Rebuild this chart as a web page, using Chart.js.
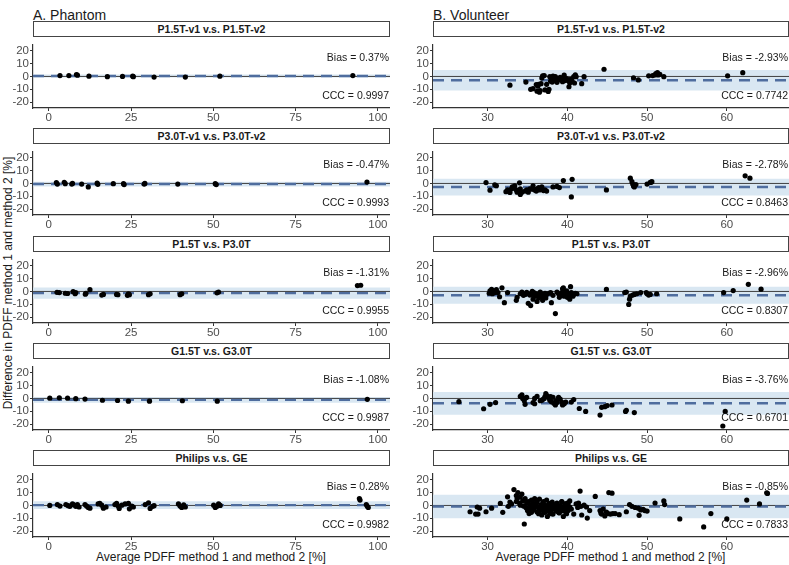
<!DOCTYPE html>
<html>
<head>
  <meta charset="utf-8">
  <title>Bland-Altman PDFF Phantom & Volunteer</title>
  <script src="https://cdn.jsdelivr.net/npm/chart.js"></script>
  <style>
    body {
      margin: 0;
      width: 789px;
      height: 565px;
      background: #ffffff;
      font-family: "Liberation Sans", Arial, sans-serif;
      position: relative;
      overflow: hidden;
    }
    .col-title {
      position: absolute;
      top: 7px;
      font-size: 14px;
      line-height: 16px;
      color: #1a1a1a;
    }
    .strip {
      position: absolute;
      height: 16px;
      box-sizing: border-box;
      border: 1px solid #444;
      background: #fff;
      font-size: 10.5px;
      font-weight: bold;
      line-height: 14px;
      color: #1a1a1a;
      text-align: center;
    }
    .panel {
      position: absolute;
    }
    .x-title {
      position: absolute;
      top: 550px;
      font-size: 12px;
      line-height: 14px;
      color: #1a1a1a;
      text-align: center;
    }
    .y-title {
      position: absolute;
      width: 320px;
      left: -152px;
      top: 276px;
      font-size: 12px;
      line-height: 14px;
      color: #1a1a1a;
      text-align: center;
      transform: rotate(-90deg);
    }
  </style>
</head>
<body>

  <div class="col-title" style="left:33px">A. Phantom</div>
  <div class="col-title" style="left:433px">B. Volunteer</div>
  <div class="y-title">Difference in PDFF method 1 and method 2 [%]</div>
  <div class="x-title" style="left:33px;width:356px">Average PDFF method 1 and method 2 [%]</div>
  <div class="x-title" style="left:433px;width:355px">Average PDFF method 1 and method 2 [%]</div>

  <script>
    // 1. Data
    const comparisons = ['P1.5T-v1 v.s. P1.5T-v2', 'P3.0T-v1 v.s. P3.0T-v2', 'P1.5T v.s. P3.0T', 'G1.5T v.s. G3.0T', 'Philips v.s. GE'];

    const yTicks = [-20, -10, 0, 10, 20];
    const yRange = [-24.5, 24.5];
    const phantomTicks = [0, 25, 50, 75, 100];
    const phantomRange = [-4.8, 103.7];
    const volunteerTicks = [30, 40, 50, 60];
    const volunteerRange = [23.15, 67.8];

    const phantomBias = [0.37, -0.47, -1.31, -1.08, 0.28];
    const phantomCCC = ['0.9997', '0.9993', '0.9955', '0.9987', '0.9982'];
    const phantomLoaLow = [-0.8, -2.3, -5.7, -3.3, -2.8];
    const phantomLoaHigh = [1.6, 1.4, 3.1, 1.1, 3.3];

    const volunteerBias = [-2.93, -2.78, -2.96, -3.76, -0.85];
    const volunteerCCC = ['0.7742', '0.8463', '0.8307', '0.6701', '0.7833'];
    const volunteerLoaLow = [-10.9, -9.3, -9.6, -12.6, -10.0];
    const volunteerLoaHigh = [5.0, 3.7, 3.7, 5.1, 8.3];

    // phantom
    const ph15RepX = [3.4, 6.1, 8.4, 8.7, 12.2, 17.8, 22.4, 25.5, 25.7, 32.0, 41.5, 52.0, 92.4];
    const ph15RepY = [0.7, 0.7, 1.5, 1.0, 0.2, -0.2, 0.0, 0.2, -0.2, -0.5, -0.5, 0.2, 0.7];

    const ph30RepX = [2.3, 2.6, 4.7, 5.0, 7.0, 7.2, 10.0, 12.0, 14.7, 14.9, 19.6, 22.7, 22.9, 29.0, 29.2, 39.2, 50.6, 50.9, 96.7];
    const ph30RepY = [0.7, -0.5, 0.9, -0.2, -0.5, 0.0, -0.5, -2.7, 0.2, -0.7, -0.2, -0.2, -0.9, -0.5, 0.0, -0.5, -0.2, -0.9, 1.1];

    const phFieldX = [2.5, 3.2, 5.0, 5.7, 7.4, 8.0, 8.2, 11.1, 11.3, 12.5, 16.1, 16.6, 20.6, 21.0, 23.9, 24.2, 24.5, 30.3, 30.8, 39.9, 40.4, 51.1, 51.6, 93.8, 94.8];
    const phFieldY = [-0.7, -0.9, -1.4, -1.6, -0.2, -1.8, -0.9, -2.1, -1.4, 1.4, -2.8, -2.3, -2.3, -2.5, -3.0, -1.8, -2.5, -2.5, -1.8, -2.5, -1.8, -1.1, -0.5, 4.6, 4.8];

    const phGeX = [0.3, 3.2, 5.7, 8.2, 11.0, 16.3, 20.9, 24.2, 30.6, 40.6, 51.2, 96.8];
    const phGeY = [0.2, 0.5, 0.2, -0.2, -0.5, -1.4, -1.6, -2.1, -2.1, -1.8, -2.1, -0.7];

    const phVendorX = [0.3, 2.6, 3.4, 5.2, 5.9, 6.4, 7.2, 7.6, 8.2, 8.7,
      9.2, 11.0, 11.5, 12.0, 12.5, 15.0, 15.5, 16.1, 16.6, 17.4,
      20.1, 20.6, 21.1, 21.4, 22.2, 23.2, 24.2, 24.5, 25.2, 25.7,
      29.3, 30.3, 30.8, 31.6, 32.0, 39.4, 39.9, 40.4, 41.0, 41.5,
      50.1, 50.6, 51.1, 51.6, 52.1, 94.4, 94.6, 96.5, 96.8, 97.1];
    const phVendorY = [0.0, 0.7, -0.5, 0.7, -0.2, -0.7, 1.2, 0.5, -0.7, 0.7,
      -1.2, 0.7, -0.5, -1.6, -2.1, 1.2, 1.6, 0.2, -2.1, -1.2,
      0.7, 1.6, -0.5, -2.3, 0.2, 1.2, 1.6, -2.6, -0.5, -1.2,
      0.7, 2.1, -2.3, -0.7, -0.2, 1.2, -0.5, -1.6, 0.5, -1.2,
      0.2, -1.6, -0.7, 1.2, 0.0, 5.3, 4.2, 0.7, -0.7, -1.6];

    // volunteer
    const vo15RepX = [32.8, 34.8, 35.4, 35.7, 36.1, 36.2, 36.3, 36.4, 36.5, 36.6,
      36.7, 36.8, 36.9, 37.1, 37.2, 37.4, 37.6, 37.7, 37.8, 37.9,
      38.1, 38.2, 38.2, 38.4, 38.5, 38.6, 38.7, 38.7, 39.1, 39.2,
      39.4, 39.5, 39.6, 39.7, 39.9, 40.1, 40.2, 40.3, 40.4, 40.6,
      40.8, 40.9, 41.0, 41.1, 41.8, 42.1, 44.6, 48.3, 48.9, 50.2,
      50.7, 51.0, 51.1, 51.3, 51.4, 51.6, 52.1, 60.1, 62.0];
    const vo15RepY = [-6.8, -4.4, -10.0, -9.5, -6.3, -11.5, -7.6, -6.1, -12.2, -11.0,
      -5.6, -1.2, 0.5, 0.7, -10.5, -6.1, -11.7, -10.0, -0.2, -3.7,
      -4.4, 0.2, -1.2, -3.2, -0.2, -2.7, -2.0, -4.6, -0.7, -2.7,
      -4.1, -1.0, 1.0, -3.2, -1.7, -3.2, -8.0, -5.1, -2.2, -3.7,
      -0.2, -5.1, 1.2, -0.2, -5.6, -0.2, 5.6, -1.0, -2.7, 0.5,
      0.7, 1.2, 2.2, 2.9, 1.2, 1.7, -0.2, 0.5, 2.9];

    const vo30RepX = [29.8, 30.3, 30.9, 31.1, 32.3, 32.5, 32.6, 32.8, 33.0, 33.1,
      33.3, 33.4, 33.6, 33.7, 33.9, 34.0, 34.1, 34.1, 34.3, 34.7,
      34.9, 35.1, 35.3, 35.5, 35.7, 35.9, 36.1, 36.2, 36.4, 36.5,
      36.7, 36.8, 37.0, 37.2, 37.4, 38.2, 38.7, 39.0, 39.5, 40.5,
      40.6, 44.9, 47.9, 48.1, 48.2, 48.3, 48.4, 48.6, 50.0, 50.4,
      50.5, 50.6, 62.3, 62.9];
    const vo30RepY = [0.7, -5.2, -1.1, -1.8, -6.4, -5.0, -5.9, -7.0, -4.1, -2.7,
      -3.6, -1.8, -5.0, -6.8, -5.9, 0.5, -4.1, -8.6, -6.8, -5.9,
      -5.0, -6.8, -4.1, -4.5, -1.8, -5.0, -5.9, -4.1, -3.2, -5.0,
      -3.6, -2.7, -5.5, -5.0, -5.9, -2.7, -2.3, -3.2, 2.3, -10.5,
      3.2, -5.0, 4.1, 1.4, -0.5, -1.8, -2.7, -0.9, -0.5, 0.9,
      0.9, 1.4, 5.9, 4.1];

    const voFieldX = [30.2, 30.3, 30.5, 30.6, 30.9, 31.1, 31.3, 31.5, 31.8, 32.1,
      32.5, 33.6, 33.7, 34.1, 34.3, 34.5, 34.7, 34.9, 35.0, 35.1,
      35.3, 35.4, 35.5, 35.6, 35.7, 35.8, 35.9, 36.1, 36.2, 36.2,
      36.4, 36.5, 36.6, 36.7, 36.8, 36.9, 37.1, 37.2, 37.3, 37.4,
      37.7, 37.9, 38.0, 38.2, 38.5, 38.7, 38.9, 39.0, 39.2, 39.3,
      39.4, 39.5, 39.6, 39.7, 39.8, 39.9, 40.0, 40.1, 40.3, 40.3,
      40.4, 40.5, 40.7, 40.8, 41.0, 41.2, 44.9, 47.2, 47.4, 47.7,
      47.8, 47.9, 48.2, 48.4, 48.7, 49.2, 49.9, 50.0, 50.2, 50.4,
      51.2, 59.6, 60.8, 62.7, 64.3];
    const voFieldY = [-1.4, 0.5, 1.6, -1.8, -0.9, 1.4, -0.9, -4.1, 2.8, -8.7,
      -0.9, -6.9, -4.6, -1.8, -0.5, -3.0, -2.3, -0.7, -1.4, -9.2,
      -2.8, -11.0, -1.8, 0.0, -6.0, -0.9, -3.7, -1.8, -7.8, -2.8,
      -5.1, -3.2, -0.5, -1.8, -4.1, -6.9, -3.2, -1.4, -5.1, -2.3,
      -1.4, -0.9, -8.7, -3.0, -17.2, -0.5, -1.8, -4.6, -2.8, -0.9,
      2.1, 2.8, -3.7, -2.3, -0.9, 0.5, -4.6, -1.8, -6.0, -2.8,
      3.7, -0.9, -3.7, -2.3, -1.4, -1.8, 1.6, -0.9, -0.5, -10.1,
      -6.0, -3.7, -2.8, -2.3, -1.8, -0.9, -0.9, -1.8, -2.8, -2.3,
      -1.8, -0.9, 0.7, 5.5, 1.8];

    const voGeX = [26.4, 29.5, 30.3, 31.0, 34.1, 34.3, 34.4, 34.6, 34.7, 34.8,
      34.9, 35.7, 35.9, 35.9, 36.2, 36.6, 36.8, 36.9, 37.1, 37.2,
      37.3, 37.4, 37.5, 37.7, 37.8, 37.9, 38.0, 38.2, 38.3, 38.5,
      38.6, 38.7, 38.9, 39.1, 39.3, 39.4, 39.6, 39.8, 40.5, 40.8,
      41.5, 42.3, 44.1, 44.3, 44.7, 45.0, 45.6, 47.3, 47.4, 48.4,
      59.5, 59.8];
    const voGeY = [-2.5, -8.0, -4.6, -3.2, 1.6, 2.8, 0.0, -1.8, -4.6, 0.5,
      0.9, -3.2, 0.0, -4.1, 1.6, -1.8, -1.4, -0.9, 0.0, 1.4,
      3.7, 2.3, 1.8, 0.5, -1.4, 1.4, -2.5, 0.9, -3.7, -5.1,
      -1.8, -3.2, 0.9, -0.5, -2.8, -5.1, -4.1, -2.8, -2.8, -0.9,
      -7.8, -10.1, -12.9, -6.9, -6.4, -5.5, -5.1, -10.1, -9.2, -11.0,
      -21.4, -10.1];

    const voVendorX = [27.8, 28.5, 28.7, 28.8, 29.0, 29.8, 30.5, 31.6, 31.9, 32.5,
      32.6, 32.8, 33.0, 33.3, 33.6, 33.6, 33.7, 33.8, 34.0, 34.1,
      34.1, 34.3, 34.4, 34.5, 34.6, 34.7, 34.8, 34.9, 35.0, 35.1,
      35.2, 35.3, 35.4, 35.5, 35.6, 35.7, 35.8, 35.9, 36.1, 36.2,
      36.2, 36.4, 36.5, 36.6, 36.7, 36.8, 36.9, 37.0, 37.1, 37.2,
      37.3, 37.4, 37.5, 37.6, 37.7, 37.8, 37.9, 38.0, 38.1, 38.2,
      38.3, 38.5, 38.6, 38.7, 38.7, 38.9, 39.0, 39.1, 39.2, 39.3,
      39.4, 39.5, 39.6, 39.7, 39.8, 39.9, 40.0, 40.1, 40.3, 40.3,
      40.5, 40.8, 41.1, 41.3, 41.4, 41.6, 41.7, 41.8, 42.1, 42.4,
      42.5, 42.8, 43.5, 44.1, 44.2, 44.3, 44.5, 44.7, 44.9, 45.1,
      45.2, 45.4, 45.6, 45.7, 46.0, 46.5, 47.4, 47.8, 48.1, 48.5,
      48.9, 49.0, 49.2, 49.5, 49.7, 50.0, 51.0, 52.1, 52.2, 54.1,
      57.1, 58.0, 60.0, 62.5, 64.1, 65.0, 65.1,
      34.9, 35.3, 35.5, 35.7, 36.1, 36.4, 36.6, 36.8, 37.0, 37.2,
      37.4, 37.6, 37.8, 38.0, 38.2, 38.5, 38.7, 38.9, 39.1, 39.3,
      39.5, 39.7, 39.9, 40.1];
    const voVendorY = [-4.9, -6.7, -1.2, -6.7, -2.1, -4.9, -2.1, 1.6, -5.3, 6.7,
      -0.7, 2.6, 1.2, 12.3, 7.7, 3.0, 5.3, 10.0, 1.9, 6.5,
      0.2, 8.8, 3.5, -0.5, -14.4, 5.3, -1.6, 1.9, -4.0, 3.0,
      -6.3, 0.7, -2.8, 4.2, -1.2, 1.9, -3.5, 5.3, -0.5, -5.1,
      2.6, -2.1, 4.9, -4.0, 0.7, -7.4, -1.2, 3.0, -5.1, 0.2,
      -2.8, 4.2, -8.6, -1.6, 1.2, -5.8, -0.7, -3.5, 2.6, -6.7,
      -2.1, 0.7, -4.4, -1.2, 1.9, -3.0, -5.8, -0.2, -2.1, 3.0,
      -4.0, -8.6, -0.7, 1.2, -5.1, -2.1, 1.9, -4.0, -1.2, 3.5,
      -2.8, -6.7, 1.2, -1.6, 1.9, 11.2, -0.7, -7.4, 0.2, -1.2,
      -9.8, -4.0, 7.0, -4.0, -5.8, -6.7, -2.8, -8.1, -5.1, -6.3,
      10.0, -6.7, 9.5, -6.3, -6.3, -7.2, -4.9, 0.7, -0.7, -1.6,
      -2.1, -7.7, -3.5, -3.0, -4.0, -4.4, 1.9, 3.5, 0.7, -10.5,
      -16.7, -6.3, -10.5, 4.2, 1.2, 9.8, 9.3,
      -1.8, -4.1, -5.3, -2.5, 1.6, -6.4, -0.7, -3.0, 0.5, -5.3,
      -1.8, -4.1, 1.6, -6.4, -0.7, -3.0, 0.5, -5.3, -1.8, 2.8,
      -4.1, -0.7, -6.4, 1.6];

    const phantomX = [ph15RepX, ph30RepX, phFieldX, phGeX, phVendorX];
    const phantomY = [ph15RepY, ph30RepY, phFieldY, phGeY, phVendorY];
    const volunteerX = [vo15RepX, vo30RepX, voFieldX, voGeX, voVendorX];
    const volunteerY = [vo15RepY, vo30RepY, voFieldY, voGeY, voVendorY];

    // 2. Layout
    const plotTops = [37, 144, 252, 359, 466];
    const plotHeight = 71;

    // 3. Bias / CCC text plugin
    const statText = {
      id: 'statText',
      afterDatasetsDraw(chart, args, opts) {
        const { ctx, chartArea } = chart;
        ctx.save();
        ctx.font = '10.5px "Liberation Sans", Arial, sans-serif';
        ctx.fillStyle = '#1a1a1a';
        ctx.textAlign = 'right';
        ctx.textBaseline = 'middle';
        ctx.fillText(opts.bias, chartArea.right - 1, chartArea.top + 13.5);
        ctx.fillText(opts.ccc, chartArea.right - 1, chartArea.bottom - 11.5);
        ctx.restore();
      }
    };

    function axisStyle(range, ticks, isX) {
      return {
        type: 'linear',
        min: range[0],
        max: range[1],
        afterBuildTicks: s => { s.ticks = ticks.map(v => ({ value: v })); },
        afterFit: s => { if (isX) s.height = 20; else s.width = 33; },
        grid: { drawOnChartArea: false, drawTicks: true, tickLength: 3, color: '#333' },
        border: { display: true, color: '#333', width: 1.2 },
        ticks: {
          padding: isX ? 0 : 1,
          color: '#4d4d4d',
          font: { family: '"Liberation Sans", Arial, sans-serif', size: 11.5 },
          maxRotation: 0,
          autoSkip: false
        }
      };
    }

    // 4. Build one panel
    function makePanel(colLeft, width, row, xs, ys, bias, ccc, lo, hi, xRange, xTicks) {
      const strip = document.createElement('div');
      strip.className = 'strip';
      strip.style.left = (colLeft + 33) + 'px';
      strip.style.top = (plotTops[row] - 16) + 'px';
      strip.style.width = (width - 33) + 'px';
      strip.textContent = comparisons[row];
      document.body.appendChild(strip);

      const box = document.createElement('div');
      box.className = 'panel';
      box.style.left = colLeft + 'px';
      box.style.top = plotTops[row] + 'px';
      box.style.width = width + 'px';
      box.style.height = (plotHeight + 20) + 'px';
      const canvas = document.createElement('canvas');
      box.appendChild(canvas);
      document.body.appendChild(box);

      const edge = v => [{ x: xRange[0], y: v }, { x: xRange[1], y: v }];

      new Chart(canvas, {
        type: 'scatter',
        data: {
          datasets: [
            {
              data: xs.map((x, i) => ({ x: x, y: ys[i] })),
              backgroundColor: '#000',
              borderColor: '#000',
              borderWidth: 0,
              pointRadius: 2.6,
              order: 0
            },
            {
              type: 'line', data: edge(bias),
              borderColor: '#4f6d9e', borderWidth: 2.4, borderDash: [11, 7],
              pointRadius: 0, order: 1
            },
            {
              type: 'line', data: edge(0),
              borderColor: '#404040', borderWidth: 1,
              pointRadius: 0, order: 2
            },
            {
              type: 'line', data: edge(hi),
              borderColor: 'rgba(0,0,0,0)', borderWidth: 0,
              backgroundColor: '#d9e7f2', fill: '+1',
              pointRadius: 0, order: 3
            },
            {
              type: 'line', data: edge(lo),
              borderColor: 'rgba(0,0,0,0)', borderWidth: 0,
              pointRadius: 0, order: 4
            }
          ]
        },
        options: {
          responsive: true,
          maintainAspectRatio: false,
          animation: false,
          layout: { padding: 0, autoPadding: false },
          plugins: {
            legend: { display: false },
            tooltip: { enabled: false },
            statText: { bias: 'Bias = ' + bias.toFixed(2) + '%', ccc: 'CCC = ' + ccc }
          },
          scales: {
            x: axisStyle(xRange, xTicks, true),
            y: axisStyle(yRange, yTicks, false)
          }
        },
        plugins: [statText]
      });
    }

    // 5. Draw all panels
    for (let r = 0; r < 5; r++) {
      makePanel(0, 390, r, phantomX[r], phantomY[r], phantomBias[r], phantomCCC[r],
        phantomLoaLow[r], phantomLoaHigh[r], phantomRange, phantomTicks);
      makePanel(400, 389, r, volunteerX[r], volunteerY[r], volunteerBias[r], volunteerCCC[r],
        volunteerLoaLow[r], volunteerLoaHigh[r], volunteerRange, volunteerTicks);
    }
  </script>
</body>
</html>
